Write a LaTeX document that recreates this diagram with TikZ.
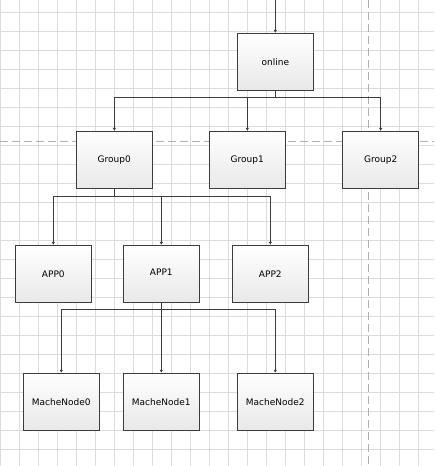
\documentclass[tikz,border=0pt]{standalone}
\usepackage{fontspec}
\setmainfont{DejaVu Sans}
\usepackage{tikz}
\usetikzlibrary{arrows.meta}

\definecolor{linegray}{HTML}{3C3C3C}
\definecolor{gridgray}{HTML}{DCDCDC}
\definecolor{dashgray}{HTML}{B0B0B0}

\tikzset{
  box/.style={draw=linegray, line width=0.9pt, top color=white, bottom color=black!9,
    minimum width=76pt, minimum height=57pt, inner sep=0pt,
    font=\fontsize{9}{10}\selectfont},
  arr/.style={draw=linegray, line width=0.9pt, -{Latex[length=3pt,width=3.5pt]}},
  gridline/.style={draw=gridgray, line width=0.7pt},
  guide/.style={draw=dashgray, line width=0.8pt, dash pattern=on 8pt off 4pt}
}

\begin{document}
\begin{tikzpicture}[x=1pt,y=-1pt]
\useasboundingbox (0,0) rectangle (434,466);
\fill[white] (0,0) rectangle (434,466);
% background grid
\foreach\i in {0,...,22} {
\draw[gridline] (\i*19+0.3,0) -- (\i*19+0.3,466);
}
\foreach\j in {0,...,24} {
\draw[gridline] (0,\j*19+12.3) -- (434,\j*19+12.3);
}
\draw[guide] (0,141.3) -- (434,141.3);
\draw[guide] (368.7,0) -- (368.7,466);

% boxes
\node[box] (online) at (275.3,61.8) {online};
\node[box] (group0) at (114.3,159.8) {Group0};
\node[box] (group1) at (247.3,159.8) {Group1};
\node[box] (group2) at (380.7,159.8) {Group2};
\node[box] (app0) at (53.3,273.8) {APP0};
\node[box] (app1) at (161.3,273.8) {\raisebox{3pt}{APP1}};
\node[box] (app2) at (270.3,273.8) {APP2};
\node[box] (mache0) at (61.3,401.7) {MacheNode0};
\node[box] (mache1) at (161.3,401.7) {MacheNode1};
\node[box] (mache2) at (275.3,401.7) {MacheNode2};

% connectors
\coordinate (entry) at (275.3,0);
\draw[arr] (entry) -- (online.north);
\foreach\g in {group0,group1,group2} {
\draw[arr] (online.south) -- ++(0,7) -| (\g.north);
}
\foreach\a in {app0,app1,app2} {
\draw[arr] (group0.south) -- ++(0,7.4) -| (\a.north);
}
\foreach\m in {mache0,mache1,mache2} {
\draw[arr] (app1.south) -- ++(0,7) -| (\m.north);
}
\end{tikzpicture}
\end{document}
